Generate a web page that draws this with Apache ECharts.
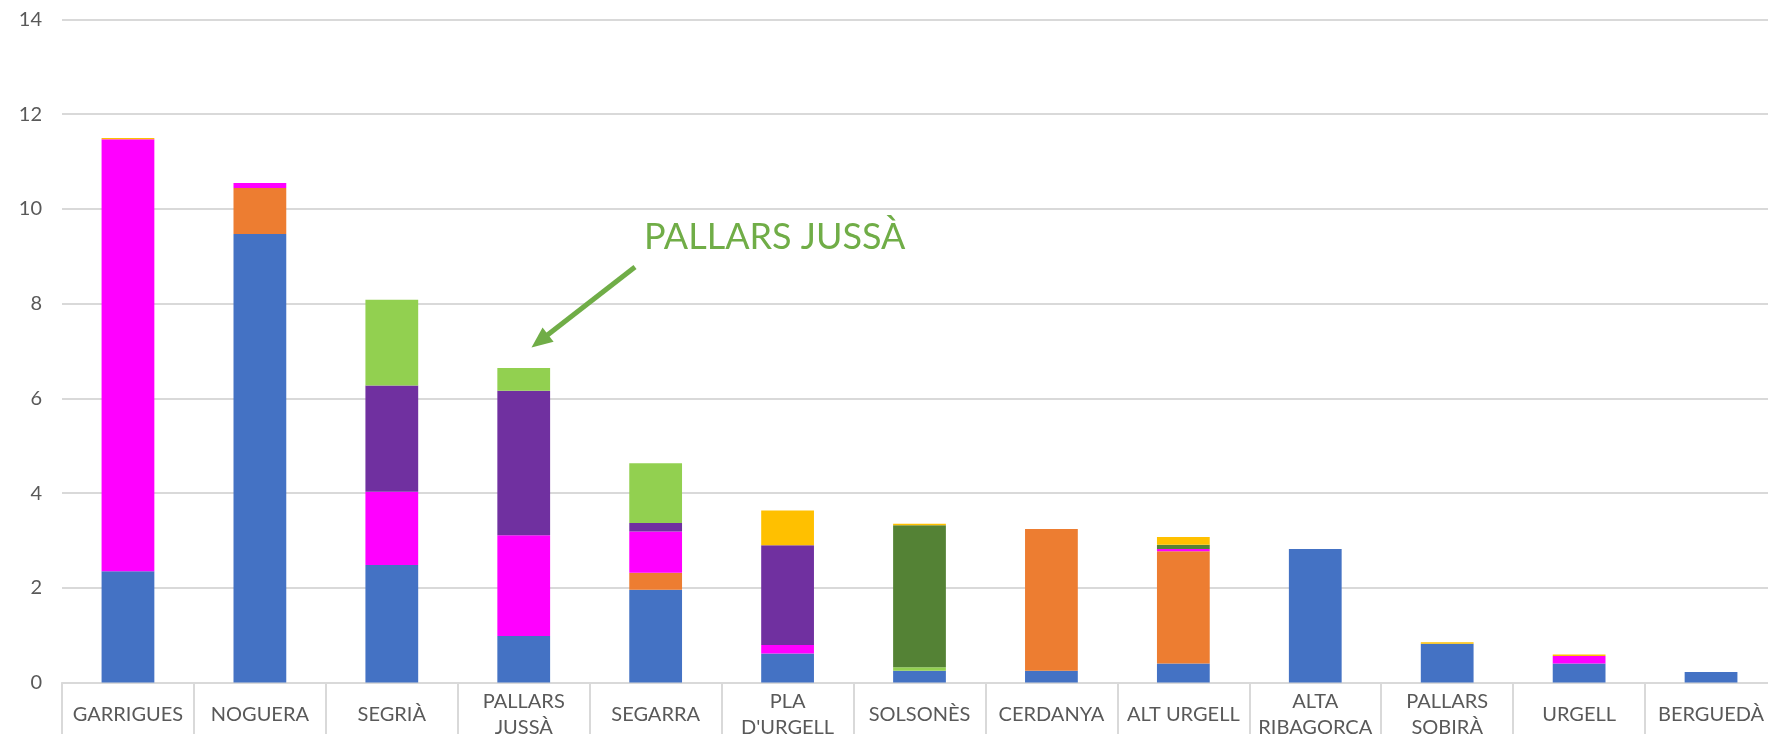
<!DOCTYPE html>
<html>
<head>
<meta charset="utf-8">
<script src="https://cdn.jsdelivr.net/npm/echarts@6/dist/echarts.min.js"></script>
<style>
  html, body { margin: 0; padding: 0; background: #ffffff; }
  #chart { width: 1768px; height: 734px; }
</style>
</head>
<body>
<div id="chart"></div>
<script>
// Comarques, ordered by total
const categories = [
  'GARRIGUES', 'NOGUERA', 'SEGRIÀ', 'PALLARS\nJUSSÀ', 'SEGARRA', 'PLA\nD\'URGELL',
  'SOLSONÈS', 'CERDANYA', 'ALT URGELL', 'ALTA\nRIBAGORÇA', 'PALLARS\nSOBIRÀ', 'URGELL', 'BERGUEDÀ'
];

// Stacked components, bottom to top
const serieBlau    = [2.35, 9.47, 2.48, 0.98, 1.96, 0.61, 0.25, 0.25, 0.40, 2.82, 0.82, 0.40, 0.22];
const serieTaronja = [0,    0.97, 0,    0,    0.36, 0,    0,    2.99, 2.37, 0,    0,    0,    0];
const serieMagenta = [9.12, 0.11, 1.55, 2.13, 0.87, 0.18, 0,    0,    0.05, 0,    0,    0.16, 0];
const serieLila    = [0,    0,    2.24, 3.05, 0.18, 2.11, 0,    0,    0,    0,    0,    0,    0];
const serieVerd    = [0,    0,    1.81, 0.48, 1.26, 0,    0.07, 0,    0,    0,    0,    0,    0];
const serieVerdFosc= [0,    0,    0,    0,    0,    0,    3.00, 0,    0.09, 0,    0,    0,    0];
const serieGroc    = [0.03, 0,    0,    0,    0,    0.73, 0.03, 0,    0.16, 0,    0.03, 0.03, 0];

// Y axis ticks
const yTicks = [0, 2, 4, 6, 8, 10, 12, 14];

const stackSeries = [
  { name: 'Blau',      data: serieBlau,     color: '#4472C4' },
  { name: 'Taronja',   data: serieTaronja,  color: '#ED7D31' },
  { name: 'Magenta',   data: serieMagenta,  color: '#FF00FF' },
  { name: 'Lila',      data: serieLila,     color: '#7030A0' },
  { name: 'Verd',      data: serieVerd,     color: '#92D050' },
  { name: 'Verd fosc', data: serieVerdFosc, color: '#548235' },
  { name: 'Groc',      data: serieGroc,     color: '#FFC000' }
];

const labelFont = 'Lato, "Open Sans", sans-serif';

const chart = echarts.init(document.getElementById('chart'), null, { renderer: 'canvas' });

// Arrow pointing at PALLARS JUSSÀ
const arrowStart = [635, 267];
const arrowTip = [531.5, 347.5];
const dx = arrowTip[0] - arrowStart[0], dy = arrowTip[1] - arrowStart[1];
const len = Math.sqrt(dx * dx + dy * dy);
const ux = dx / len, uy = dy / len;
const headLen = 21, headHalf = 9;
const baseX = arrowTip[0] - ux * headLen, baseY = arrowTip[1] - uy * headLen;

chart.setOption({
  animation: false,
  backgroundColor: '#ffffff',
  grid: { left: 62, right: -9, top: 19.5, bottom: 51.5, containLabel: false, outerBoundsMode: 'none' },
  xAxis: {
    type: 'category',
    data: categories,
    axisLine: { show: true, lineStyle: { color: '#d9d9d9', width: 2 } },
    axisTick: { show: true, alignWithLabel: false, length: 60, lineStyle: { color: '#d9d9d9', width: 2 } },
    axisLabel: {
      interval: 0,
      color: '#595959',
      fontFamily: labelFont,
      fontSize: 20,
      lineHeight: 26,
      margin: 32,
      verticalAlign: 'middle'
    }
  },
  yAxis: {
    type: 'value',
    min: yTicks[0],
    max: yTicks[yTicks.length - 1],
    interval: 2,
    axisLine: { show: false },
    axisTick: { show: false },
    splitLine: { lineStyle: { color: '#d9d9d9', width: 2 } },
    axisLabel: { color: '#595959', fontFamily: labelFont, fontSize: 20, margin: 20 }
  },
  series: stackSeries.map(s => ({
    name: s.name,
    type: 'bar',
    stack: 'total',
    data: s.data,
    barWidth: '40%',
    itemStyle: { color: s.color }
  })),
  graphic: [
    {
      type: 'text',
      left: 644,
      top: 219,
      style: {
        text: 'PALLARS JUSSÀ',
        fill: '#70AD47',
        font: '36px Lato, "Open Sans", sans-serif'
      },
      z: 10
    },
    {
      type: 'line',
      shape: { x1: arrowStart[0], y1: arrowStart[1], x2: baseX + ux * 2, y2: baseY + uy * 2 },
      style: { stroke: '#70AD47', lineWidth: 5 },
      z: 10
    },
    {
      type: 'polygon',
      shape: {
        points: [
          arrowTip,
          [baseX - uy * headHalf, baseY + ux * headHalf],
          [baseX + uy * headHalf, baseY - ux * headHalf]
        ]
      },
      style: { fill: '#70AD47' },
      z: 10
    }
  ]
});
</script>
</body>
</html>
